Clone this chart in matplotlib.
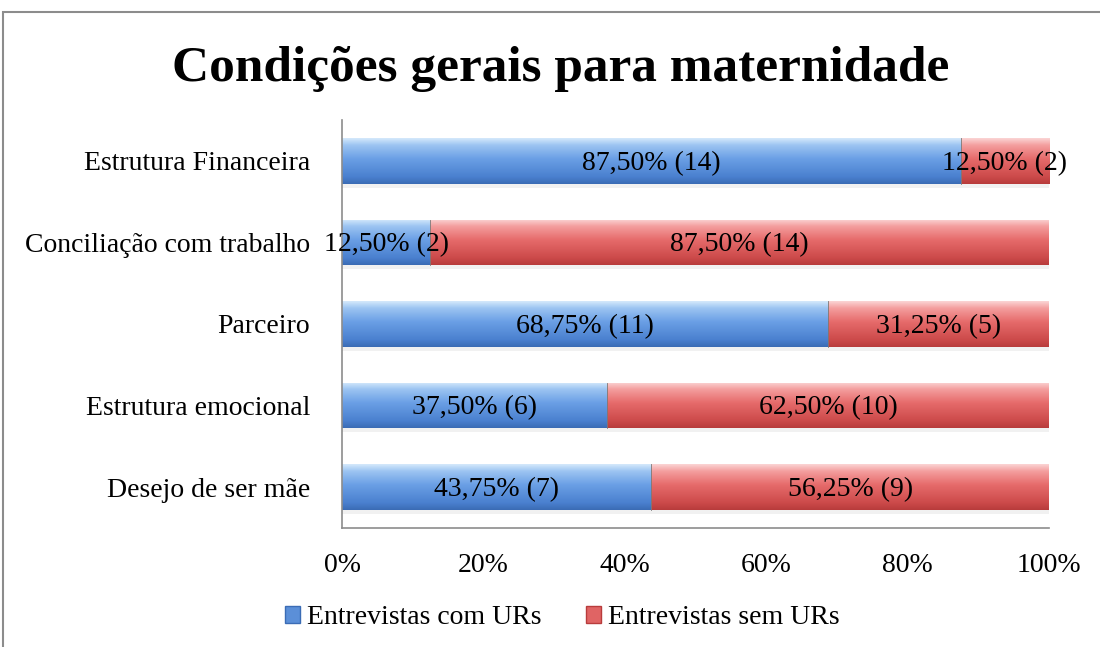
import numpy as np
import matplotlib
matplotlib.use("Agg")
import matplotlib.pyplot as plt
from matplotlib.colors import LinearSegmentedColormap
from matplotlib.patches import Rectangle, Patch

categories = ["Desejo de ser mãe", "Estrutura emocional", "Parceiro",
              "Conciliação com trabalho", "Estrutura Financeira"]
com_urs = [43.75, 37.50, 68.75, 12.50, 87.50]
sem_urs = [56.25, 62.50, 31.25, 87.50, 12.50]
com_n = [7, 6, 11, 2, 14]
sem_n = [9, 10, 5, 14, 2]
xticks = [0, 20, 40, 60, 80, 100]
title = "Condições gerais para maternidade"
series_names = ["Entrevistas com URs", "Entrevistas sem URs"]

FONT = "Liberation Serif"
plt.rcParams['font.family'] = [FONT, 'DejaVu Serif']

fig = plt.figure(figsize=(11, 6.47), dpi=100)
ax = fig.add_axes([0.311, 0.184, 0.6427, 0.6306])

blue_cmap = LinearSegmentedColormap.from_list("b", [
    (0.0, "#3b6cb5"), (0.15, "#4a80cf"), (0.55, "#6a9fe5"),
    (0.85, "#9cc4f2"), (1.0, "#d3e8fb")])
red_cmap = LinearSegmentedColormap.from_list("r", [
    (0.0, "#b83c3c"), (0.15, "#cc4a4a"), (0.55, "#e66b6b"),
    (0.85, "#f49e9e"), (1.0, "#fbd3d3")])

y = np.arange(len(categories))
h = 0.56
grad = np.linspace(0, 1, 64).reshape(-1, 1)

def gradient_bars(bars, cmap):
    for b in bars:
        x0, y0 = b.get_x(), b.get_y()
        w, hh = b.get_width(), b.get_height()
        b.set_facecolor("none")
        b.set_edgecolor("none")
        im = ax.imshow(grad, cmap=cmap, origin="lower", aspect="auto",
                       extent=(x0, x0 + w, y0, y0 + hh), zorder=2,
                       interpolation="bilinear")
        im.set_clip_path(b)
        ax.add_patch(Rectangle((x0, y0 - 0.05), w, 0.05, facecolor="#e4e4e4",
                               edgecolor="none", alpha=0.5, zorder=1))
        ax.plot([x0 + w, x0 + w], [y0, y0 + hh], color="#7a7a7a", lw=0.6, zorder=3)

b1 = ax.barh(y, com_urs, height=h, zorder=2)
b2 = ax.barh(y, sem_urs, left=com_urs, height=h, zorder=2)
gradient_bars(b1, blue_cmap)
gradient_bars(b2, red_cmap)

def fmt(v, n):
    return f"{v:.2f}%".replace(".", ",") + f" ({n})"

for i in range(len(categories)):
    ax.text(com_urs[i] / 2, y[i] - 0.03, fmt(com_urs[i], com_n[i]),
            ha="center", va="center", fontsize=20, zorder=5)
    ax.text(com_urs[i] + sem_urs[i] / 2, y[i] - 0.03, fmt(sem_urs[i], sem_n[i]),
            ha="center", va="center", fontsize=20, zorder=5)

ax.set_xlim(0, 100)
ax.set_ylim(-0.5, len(categories) - 0.5)
ax.set_yticks(y)
ax.set_yticklabels(categories, fontsize=20)
ax.set_xticks(xticks)
ax.set_xticklabels([f"{t}%" for t in xticks], fontsize=20)
ax.tick_params(axis="both", length=0)
ax.tick_params(axis="y", pad=23)
ax.tick_params(axis="x", pad=18)
for s in ["top", "right"]:
    ax.spines[s].set_visible(False)
for s in ["left", "bottom"]:
    ax.spines[s].set_color("#8c8c8c")
    ax.spines[s].set_linewidth(1.2)

fig.text(0.510, 0.893, title, ha="center", va="center", fontsize=37,
         fontweight="bold")

handles = [Patch(facecolor="#5b8fd8", edgecolor="#3b6cb5"),
           Patch(facecolor="#e06464", edgecolor="#b83c3c")]
fig.legend(handles, series_names, loc="center", bbox_to_anchor=(0.511, 0.045),
           ncol=2, frameon=False, fontsize=20, handlelength=0.55, handleheight=0.55,
           handletextpad=0.25, columnspacing=1.6)

fig.add_artist(Rectangle((3 / 1100, -0.1), 2, (647 - 12) / 647 + 0.1,
                         transform=fig.transFigure, fill=False,
                         edgecolor="#8c8c8c", lw=1.5))

fig.savefig("out.png", dpi=100)
